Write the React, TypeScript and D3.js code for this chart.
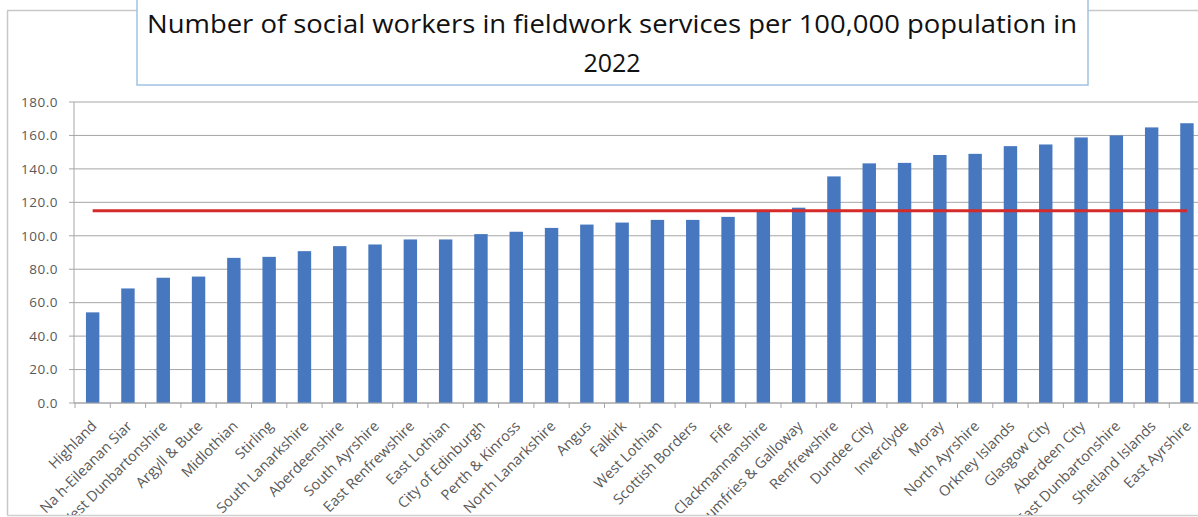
import React from "react";
import * as d3 from "d3";

const categories = [
  "Highland", "Na h-Eileanan Siar", "West Dunbartonshire", "Argyll & Bute", "Midlothian",
  "Stirling", "South Lanarkshire", "Aberdeenshire", "South Ayrshire", "East Renfrewshire",
  "East Lothian", "City of Edinburgh", "Perth & Kinross", "North Lanarkshire", "Angus",
  "Falkirk", "West Lothian", "Scottish Borders", "Fife", "Clackmannanshire",
  "Dumfries & Galloway", "Renfrewshire", "Dundee City", "Inverclyde", "Moray",
  "North Ayrshire", "Orkney Islands", "Glasgow City", "Aberdeen City", "East Dunbartonshire",
  "Shetland Islands", "East Ayrshire",
];
const values = [
  54.2, 68.5, 74.9, 75.6, 86.8, 87.4, 90.8, 93.8, 94.8, 97.8,
  97.8, 101.0, 102.4, 104.7, 106.7, 107.9, 109.5, 109.5, 111.3, 114.2,
  116.8, 135.5, 143.3, 143.6, 148.3, 149.0, 153.6, 154.6, 158.8, 160.0,
  164.8, 167.3,
];
const scotlandAverage = 115.0;
const yTicks = [0, 20, 40, 60, 80, 100, 120, 140, 160, 180];
const titleLines = [
  "Number of social workers in fieldwork services per 100,000 population in",
  "2022",
];

const W = 1198;
const H = 517;
const plotLeft = 75;
const plotTop = 102;
const plotBottom = 403;
const step = 35.3;

export default function App() {
  const x = d3
    .scaleBand<string>()
    .domain(categories)
    .range([plotLeft, plotLeft + step * categories.length])
    .paddingInner(0.62)
    .paddingOuter(0.31);
  const y = d3.scaleLinear().domain([0, 180]).range([plotBottom, plotTop]);
  const font = "'Open Sans', sans-serif";
  const tickColor = "#595959";
  const gridColor = "#a6a6a6";
  const centers = categories.map((c) => (x(c) as number) + x.bandwidth() / 2);
  const boundaries = d3.range(categories.length + 1).map((i) => plotLeft + i * x.step());

  return (
    <svg width={W} height={H} style={{ position: "absolute", left: 0, top: 0, background: "#fff" }}>
      <defs>
        <clipPath id="chartClip">
          <rect x={8} y={11} width={W} height={504} />
        </clipPath>
      </defs>
      <rect x={0} y={0} width={W} height={H} fill="#fff" />
      {/* chart border */}
      <line x1={7.5} y1={11} x2={7.5} y2={515} stroke="#c8c8c8" strokeWidth={1.5} />
      <line x1={7} y1={10.5} x2={W} y2={10.5} stroke="#c8c8c8" strokeWidth={1.5} />
      <line x1={7} y1={515.5} x2={W} y2={515.5} stroke="#d0d0d0" strokeWidth={1.5} />
      {/* title box */}
      <rect x={137} y={-5} width={951} height={90} fill="#fff" stroke="#9fc2e4" strokeWidth={1.5} />
      <text x={612} y={33} textAnchor="middle" fontFamily={font} fontSize={25} fontWeight={500} fill="#111"
        textLength={930} lengthAdjust="spacingAndGlyphs">{titleLines[0]}</text>
      <text x={612} y={72} textAnchor="middle" fontFamily={font} fontSize={25} fontWeight={500} fill="#111">{titleLines[1]}</text>

      {/* gridlines and y axis */}
      {yTicks.map((t) => (
        <g key={t}>
          <line x1={plotLeft - 6} x2={W} y1={y(t)} y2={y(t)} stroke={gridColor} strokeWidth={1} />
          <text x={58} y={y(t)} dy="0.35em" textAnchor="end" fontFamily={font} fontSize={13.5}
            letterSpacing={0.5} fill={tickColor}>
            {d3.format(".1f")(t)}
          </text>
        </g>
      ))}
      <line x1={plotLeft - 1} x2={plotLeft - 1} y1={plotTop} y2={plotBottom} stroke={gridColor} strokeWidth={1} />

      {/* bars */}
      {categories.map((c, i) => (
        <rect key={c} x={x(c)} y={y(values[i])} width={x.bandwidth()} height={plotBottom - y(values[i])} fill="#4677bf" />
      ))}

      {/* x axis */}
      <line x1={plotLeft - 1} x2={W} y1={plotBottom} y2={plotBottom} stroke={gridColor} strokeWidth={1} />
      {boundaries.map((b, i) => (
        <line key={i} x1={b} x2={b} y1={plotBottom} y2={plotBottom + 5} stroke={gridColor} strokeWidth={1} />
      ))}

      {/* average line */}
      <line x1={centers[0]} x2={centers[centers.length - 1]} y1={y(scotlandAverage)} y2={y(scotlandAverage)}
        stroke="#d42a2a" strokeWidth={3} />

      {/* x labels */}
      <g clipPath="url(#chartClip)">
        {categories.map((c, i) => (
          <text key={c} transform={`translate(${centers[i] + 5},${plotBottom + 24}) rotate(-45)`}
            textAnchor="end" fontFamily={font} fontSize={14.5} fill={tickColor}>
            {c}
          </text>
        ))}
      </g>
    </svg>
  );
}
